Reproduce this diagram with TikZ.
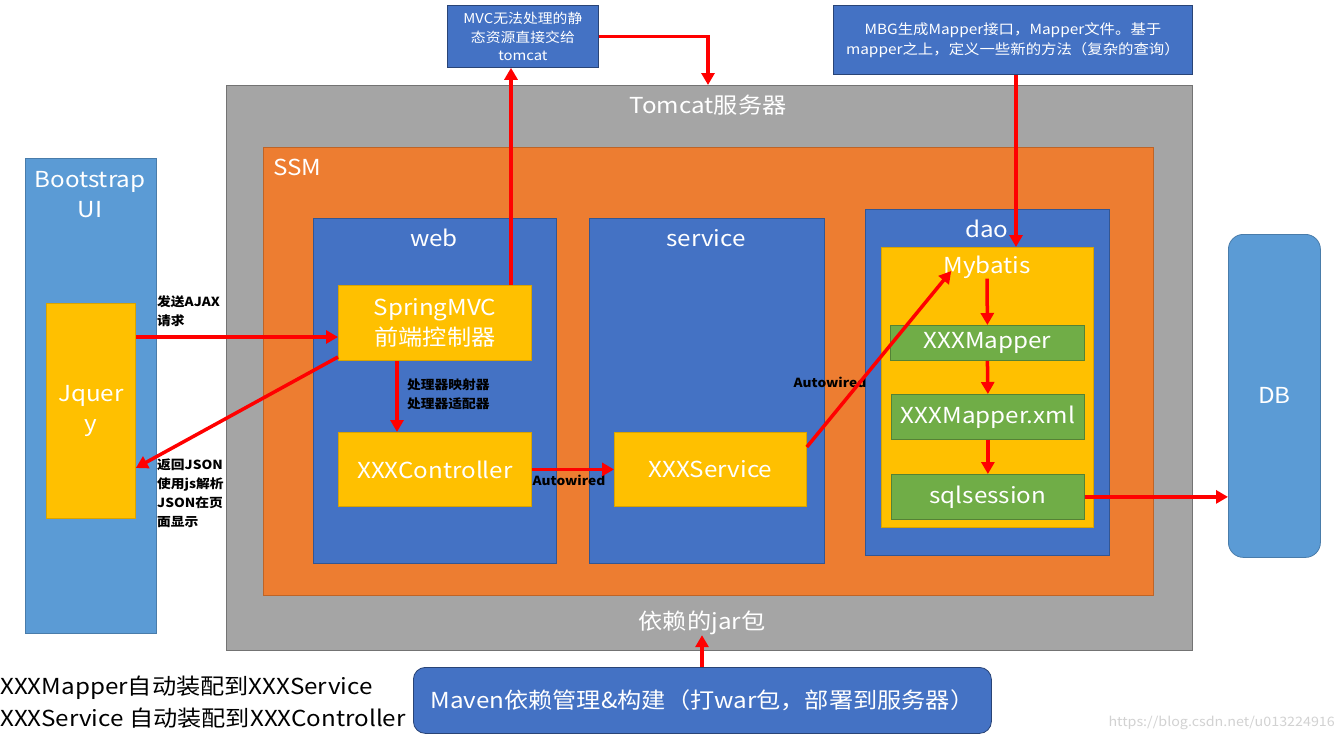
\documentclass[tikz,border=0pt]{standalone}
\usepackage{fontspec}
\setmainfont[FakeStretch=1.1]{Noto Sans CJK SC}
\usetikzlibrary{arrows.meta,calc}
\definecolor{lblue}{HTML}{5B9BD5}
\definecolor{dblue}{HTML}{4472C4}
\definecolor{orng}{HTML}{ED7D31}
\definecolor{gold}{HTML}{FFC000}
\definecolor{grn}{HTML}{70AD47}
\definecolor{gry}{HTML}{A5A5A5}

\begin{document}
\begin{tikzpicture}[x=1pt,y=-1pt,
	every node/.style={inner sep=0pt},
	box/.style={anchor=north west, line width=0.8pt},
	big/.style={text=white, align=center, font=\fontsize{22}{30}\selectfont},
	small/.style={text=white, align=center, font=\fontsize{13.5}{18.5}\selectfont},
	note/.style={anchor=north west, align=left, text=black, font=\bfseries\fontsize{12.5}{19}\selectfont},
	arr/.style={red, line width=3.5pt, -{Triangle[length=12pt,width=13pt]}}]
	\useasboundingbox[fill=white] (0,0) rectangle (1340,744);
	% outer boxes
	\node[box, fill=lblue, draw=lblue!80!black, minimum width=131, minimum height=475] (bsui) at (25,158) {};
	\node[big] (bsuit) at (90,195) {Bootstrap\\UI};
	\node[box, big, fill=gold, draw=gold!85!black, minimum width=89, minimum height=215] (jq) at (46,303) {Jquer\\y};
	\node[box, fill=gry, draw=gry!70!black, minimum width=966, minimum height=565] (tomcat) at (226,85) {};
	\node[big] (tomcatt) at (708,105) {Tomcat服务器};
	\node[big] (jart) at (702,623) {依赖的jar包};
	\node[box, fill=orng, draw=orng!80!black, minimum width=890, minimum height=448] (ssm) at (263,147) {};
	\node[big, anchor=west] (ssmt) at (273,167) {SSM};
	% three layers
	\node[box, fill=dblue, draw=dblue!75!black, minimum width=243, minimum height=345] (web) at (313,218) {};
	\node[big] (webt) at (434,238) {web};
	\node[box, fill=dblue, draw=dblue!75!black, minimum width=235, minimum height=345] (service) at (589,218) {};
	\node[big] (servicet) at (706,238) {service};
	\node[box, fill=dblue, draw=dblue!75!black, minimum width=244, minimum height=346] (dao) at (865,209) {};
	\node[big] (daot) at (987,229) {dao};
	\node[box, big, fill=gold, draw=gold!85!black, minimum width=193, minimum height=75] (smvc) at (338,285) {SpringMVC\\前端控制器};
	\node[box, big, fill=gold, draw=gold!85!black, minimum width=193, minimum height=74] (ctrl) at (338,432) {XXXController};
	\node[box, big, fill=gold, draw=gold!85!black, minimum width=192, minimum height=74] (svc) at (614,432) {XXXService};
	\node[box, fill=gold, draw=gold!85!black, minimum width=212, minimum height=280] (myb) at (881,247) {};
	\node[big] (mybt) at (987,267) {Mybatis};
	\node[box, big, fill=grn, draw=grn!75!black, minimum width=194, minimum height=35] (mp1) at (890,325) {XXXMapper};
	\node[box, big, fill=grn, draw=grn!75!black, minimum width=193, minimum height=45] (mp2) at (891,394) {XXXMapper.xml};
	\node[box, big, fill=grn, draw=grn!75!black, minimum width=193, minimum height=45] (sqls) at (891,474) {sqlsession};
	\node[box, big, fill=lblue, draw=lblue!80!black, rounded corners=15, minimum width=92, minimum height=323] (db) at (1228,234) {DB};
	% notes on top and bottom
	\node[box, small, fill=dblue, draw=dblue!60!black, minimum width=151, minimum height=62] (mvcbox) at (447,5) {MVC无法处理的静\\态资源直接交给\\tomcat};
	\node[box, small, font=\fontsize{14}{20}\selectfont, fill=dblue, draw=dblue!60!black, minimum width=359, minimum height=69] (mbg) at (833,5) {MBG生成Mapper接口，Mapper文件。基于\\mapper之上，定义一些新的方法（复杂的查询）};
	\node[box, big, fill=dblue, draw=dblue!60!black, rounded corners=12, minimum width=578, minimum height=66] (mvn) at (413,667) {Maven依赖管理\&构建（打war包，部署到服务器）};
	\node[anchor=west, font=\fontsize{22}{30}\selectfont] (auto1) at (0,688) {XXXMapper自动装配到XXXService};
	\node[anchor=west, font=\fontsize{22}{30}\selectfont] (auto2) at (0,718) {XXXService 自动装配到XXXController};
	\node[anchor=east, text=gray!35, font=\fontsize{13}{16}\selectfont] (wm) at (1335,723) {https://blog.csdn.net/u013224916};
	% labels
	\node[note] (ajax) at (157,295) {发送AJAX\\请求};
	\node[note] (json) at (157,459) {返回JSON\\使用js解析\\JSON在页\\面显示};
	\node[note] (hmap) at (407,379) {处理器映射器\\处理器适配器};
	\node[note, anchor=center] (aw1) at (569,480) {Autowired};
	\node[note, anchor=center] (aw2) at (830,382) {Autowired};
	% arrows
	\draw[arr] (jq.east |- 0,337) -- (smvc.west |- 0,337);
	\draw[arr] (smvc.west |- 0,357) -- (jq.east |- 0,468);
	\draw[arr] (smvc.north -| 511,0) -- (mvcbox.south -| 511,0);
	\draw[arr] (mvcbox.east) -| (tomcat.north -| 708,0);
	\draw[arr] (mbg.south -| 1016,0) -- (myb.north -| 1016,0);
	\draw[arr] (smvc.south -| 397,0) -- (ctrl.north -| 397,0);
	\draw[arr] (ctrl.east) -- (svc.west);
	\draw[arr] (svc.east |- 0,447) -- ($(mybt.west)+(8,4)$);
	\draw[arr] (mybt.south) -- (mp1.north);
	\draw[arr] (mp1.south) -- (mp2.north);
	\draw[arr] (mp2.south) -- (sqls.north);
	\draw[arr] (sqls.east) -- (db.west |- sqls.east);
	\draw[arr] (mvn.north -| 702,0) -- (jart.south -| 702,0);
\end{tikzpicture}
\end{document}
